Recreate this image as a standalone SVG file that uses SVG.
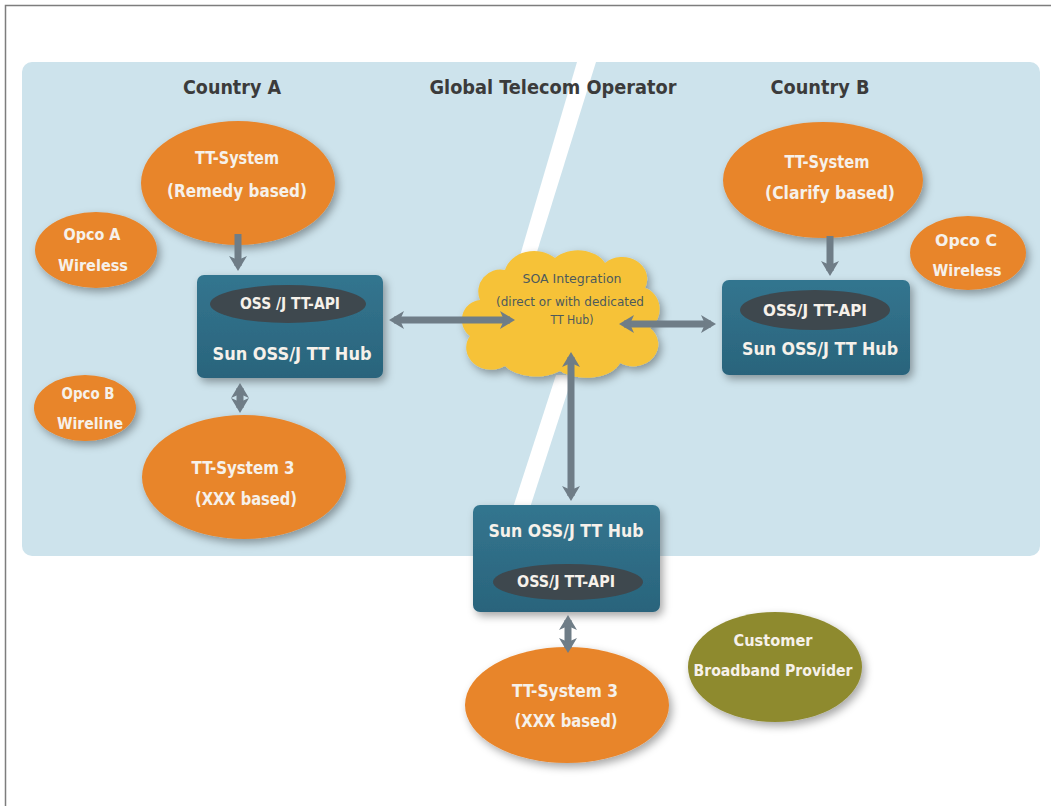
<svg xmlns="http://www.w3.org/2000/svg" width="1051" height="806" viewBox="0 0 1051 806">
<style>
text{font-family:"Liberation Sans Narrow","DejaVu Sans Condensed","Liberation Sans",sans-serif;font-weight:bold;text-anchor:middle}
.hdr{font-size:20px;fill:#3b3b3b}
.wt{fill:#f6f1ea}
.big{font-size:18px}
.mid{font-size:16px}
.sm{font-size:15px}
.cl{font-size:12px;fill:#4d5a5c;font-weight:normal}
.orange{fill:#e8852b}
.olive{fill:#8e8a2f}
.hub{fill:url(#hubg)}
.api{fill:#3e484e}
.conn{stroke:#6f7d87;stroke-width:7;fill:none}
</style>
<defs>
<filter id="sh" x="-20%" y="-20%" width="140%" height="150%">
<feDropShadow dx="3" dy="4" stdDeviation="4" flood-color="#000" flood-opacity="0.35"/>
</filter>
<linearGradient id="hubg" x1="0" y1="0" x2="0" y2="1">
<stop offset="0" stop-color="#33758f"/>
<stop offset="1" stop-color="#2a647c"/>
</linearGradient>
<marker id="ah" markerUnits="userSpaceOnUse" markerWidth="18" markerHeight="20" refX="10" refY="10" orient="auto-start-reverse" viewBox="0 0 18 20">
<path d="M0,1 L15,10 L0,19 L4,10 z" fill="#6f7d87"/>
</marker>
</defs>
<rect x="0" y="0" width="1051" height="806" fill="#ffffff"/>
<rect x="5.5" y="5.5" width="1060" height="820" fill="none" stroke="#7d7d7d" stroke-width="1.5"/>
<rect x="22" y="62" width="1018" height="494" rx="10" fill="#cde3ec"/>
<polygon points="577,62 596,62 522,300 507,300" fill="#ffffff"/>
<polygon points="556,375 573,375 513,560 496,560" fill="#ffffff"/>
<rect x="22" y="556" width="1018" height="12" fill="#ffffff"/>
<text class="hdr" x="232" y="94" textLength="98" lengthAdjust="spacingAndGlyphs">Country A</text>
<text class="hdr" x="553" y="94" textLength="247" lengthAdjust="spacingAndGlyphs">Global Telecom Operator</text>
<text class="hdr" x="820" y="94" textLength="99" lengthAdjust="spacingAndGlyphs">Country B</text>

<g id="tt-system-a">
<ellipse class="orange" cx="238" cy="183" rx="97" ry="62" filter="url(#sh)"/>
<text class="wt big" x="237" y="164" textLength="84" lengthAdjust="spacingAndGlyphs">TT-System</text>
<text class="wt big" x="237" y="197" textLength="140" lengthAdjust="spacingAndGlyphs">(Remedy based)</text>
</g>
<g id="opco-a">
<ellipse class="orange" cx="96" cy="250" rx="61" ry="38" filter="url(#sh)"/>
<text class="wt sm" x="92" y="240" textLength="57" lengthAdjust="spacingAndGlyphs">Opco A</text>
<text class="wt sm" x="93" y="271" textLength="70" lengthAdjust="spacingAndGlyphs">Wireless</text>
</g>
<g id="hub-a">
<rect class="hub" x="197" y="275" width="186" height="103" rx="7" filter="url(#sh)"/>
<ellipse class="api" cx="288" cy="304" rx="78" ry="19"/>
<text class="wt sm" x="290" y="309" textLength="100" lengthAdjust="spacingAndGlyphs">OSS /J TT-API</text>
<text class="wt big" x="292" y="360" textLength="159" lengthAdjust="spacingAndGlyphs">Sun OSS/J TT Hub</text>
</g>
<g id="opco-b">
<ellipse class="orange" cx="85" cy="408" rx="51" ry="33" filter="url(#sh)"/>
<text class="wt sm" x="88" y="399" textLength="53" lengthAdjust="spacingAndGlyphs">Opco B</text>
<text class="wt sm" x="90" y="429" textLength="66" lengthAdjust="spacingAndGlyphs">Wireline</text>
</g>
<g id="tt-system-3-a">
<ellipse class="orange" cx="244" cy="477" rx="102" ry="62" filter="url(#sh)"/>
<text class="wt big" x="243" y="474" textLength="103" lengthAdjust="spacingAndGlyphs">TT-System 3</text>
<text class="wt big" x="246" y="505" textLength="102" lengthAdjust="spacingAndGlyphs">(XXX based)</text>
</g>

<g id="soa-cloud">
<path d="M480,300 a22,22 0 0 1 25,-30 a30,25 0 0 1 50,-12 a30,22 0 0 1 50,5 a25,22 0 0 1 40,25 a20,22 0 0 1 5,40 a25,22 0 0 1 -30,35 a35,20 0 0 1 -60,8 a35,20 0 0 1 -55,-5 a25,22 0 0 1 -35,-30 a20,20 0 0 1 10,-36 z" fill="#f6c239" filter="url(#sh)"/>
<text class="cl" x="572" y="283" textLength="99" lengthAdjust="spacingAndGlyphs">SOA Integration</text>
<text class="cl" x="570" y="306" textLength="148" lengthAdjust="spacingAndGlyphs">(direct or with dedicated</text>
<text class="cl" x="572" y="324" textLength="43" lengthAdjust="spacingAndGlyphs">TT Hub)</text>
</g>

<g id="tt-system-b">
<ellipse class="orange" cx="823" cy="180" rx="100" ry="58" filter="url(#sh)"/>
<text class="wt big" x="827" y="168" textLength="85" lengthAdjust="spacingAndGlyphs">TT-System</text>
<text class="wt big" x="830" y="199" textLength="130" lengthAdjust="spacingAndGlyphs">(Clarify based)</text>
</g>
<g id="opco-c">
<ellipse class="orange" cx="968" cy="253" rx="58" ry="37" filter="url(#sh)"/>
<text class="wt sm" x="966" y="246" textLength="62" lengthAdjust="spacingAndGlyphs">Opco C</text>
<text class="wt sm" x="967" y="276" textLength="69" lengthAdjust="spacingAndGlyphs">Wireless</text>
</g>
<g id="hub-b">
<rect class="hub" x="722" y="280" width="188" height="95" rx="7" filter="url(#sh)"/>
<ellipse class="api" cx="815" cy="310" rx="75" ry="20"/>
<text class="wt sm" x="815" y="316" textLength="104" lengthAdjust="spacingAndGlyphs">OSS/J TT-API</text>
<text class="wt big" x="820" y="355" textLength="156" lengthAdjust="spacingAndGlyphs">Sun OSS/J TT Hub</text>
</g>

<g id="hub-c">
<rect class="hub" x="473" y="505" width="187" height="107" rx="7" filter="url(#sh)"/>
<text class="wt big" x="566" y="537" textLength="155" lengthAdjust="spacingAndGlyphs">Sun OSS/J TT Hub</text>
<ellipse class="api" cx="568" cy="582" rx="75" ry="18"/>
<text class="wt sm" x="566" y="587" textLength="98" lengthAdjust="spacingAndGlyphs">OSS/J TT-API</text>
</g>
<g id="tt-system-3-c">
<ellipse class="orange" cx="567" cy="705" rx="102" ry="58" filter="url(#sh)"/>
<text class="wt big" x="565" y="697" textLength="106" lengthAdjust="spacingAndGlyphs">TT-System 3</text>
<text class="wt big" x="566" y="727" textLength="103" lengthAdjust="spacingAndGlyphs">(XXX based)</text>
</g>
<g id="customer-broadband">
<ellipse class="olive" cx="775" cy="667" rx="87" ry="55" filter="url(#sh)"/>
<text class="wt sm" x="773" y="646" textLength="79" lengthAdjust="spacingAndGlyphs">Customer</text>
<text class="wt sm" x="773" y="676" textLength="159" lengthAdjust="spacingAndGlyphs">Broadband Provider</text>
</g>

<g id="connectors">
<line class="conn" x1="238" y1="234" x2="238" y2="266" marker-end="url(#ah)"/>
<line class="conn" x1="240" y1="388" x2="240" y2="408" marker-start="url(#ah)" marker-end="url(#ah)"/>
<line class="conn" x1="394" y1="320" x2="510" y2="320" marker-start="url(#ah)" marker-end="url(#ah)"/>
<line class="conn" x1="624" y1="324" x2="711" y2="324" marker-start="url(#ah)" marker-end="url(#ah)"/>
<line class="conn" x1="830" y1="236" x2="830" y2="271" marker-end="url(#ah)"/>
<line class="conn" x1="571" y1="357" x2="571" y2="496" marker-start="url(#ah)" marker-end="url(#ah)"/>
<line class="conn" x1="568" y1="620" x2="568" y2="648" marker-start="url(#ah)" marker-end="url(#ah)"/>
</g>
</svg>
